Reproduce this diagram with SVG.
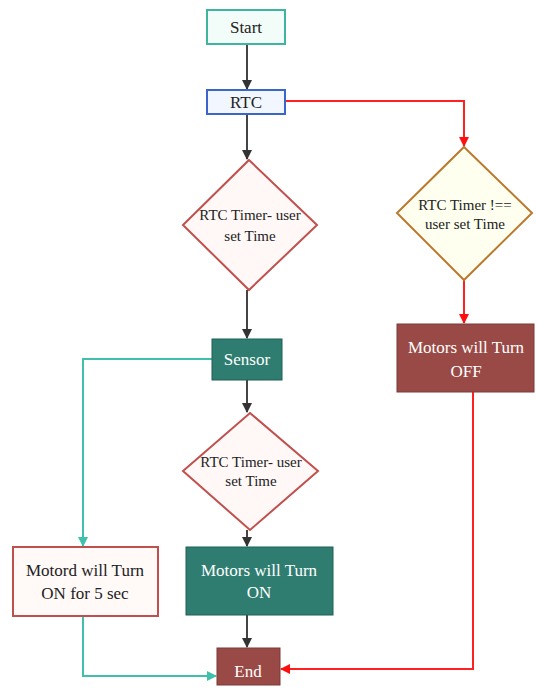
<svg xmlns="http://www.w3.org/2000/svg" width="537" height="689" viewBox="0 0 537 689">
<style>
text{text-anchor:middle;dominant-baseline:central}
.t17{font-size:17px;fill:#222}
.t15{font-size:15px;fill:#222}
.w{font-size:17px;fill:#ffffff}
.blk{stroke:#444;stroke-width:2;fill:none}
.red{stroke:#ff2020;stroke-width:2;fill:none}
.teal{stroke:#40c0aa;stroke-width:2;fill:none}
</style>
<defs>
<marker id="ab" markerWidth="10" markerHeight="10" refX="9" refY="5" orient="auto" markerUnits="userSpaceOnUse"><path d="M0,0 L10,5 L0,10 Z" fill="#333"/></marker>
<marker id="ar" markerWidth="10" markerHeight="10" refX="9" refY="5" orient="auto" markerUnits="userSpaceOnUse"><path d="M0,0 L10,5 L0,10 Z" fill="#ff1010"/></marker>
<marker id="at" markerWidth="10" markerHeight="10" refX="9" refY="5" orient="auto" markerUnits="userSpaceOnUse"><path d="M0,0 L10,5 L0,10 Z" fill="#40c0aa"/></marker>
</defs>
<rect width="537" height="689" fill="#ffffff"/>
<g id="connectors">
<path class="blk" d="M247,44 V89" marker-end="url(#ab)"/>
<path class="blk" d="M247,114 V159" marker-end="url(#ab)"/>
<path class="blk" d="M247,290 V338" marker-end="url(#ab)"/>
<path class="blk" d="M247,380 V412" marker-end="url(#ab)"/>
<path class="blk" d="M247,530 V546" marker-end="url(#ab)"/>
<path class="blk" d="M247,615 V647" marker-end="url(#ab)"/>
<path class="red" d="M285,101 H464 V146" marker-end="url(#ar)"/>
<path class="red" d="M464,280 V323" marker-end="url(#ar)"/>
<path class="red" d="M473,392 V669 H281" marker-end="url(#ar)"/>
<path class="teal" d="M212,359 H83 V546" marker-end="url(#at)"/>
<path class="teal" d="M83,616 V676 H216" marker-end="url(#at)"/>
</g>
<g font-family="Liberation Serif, Times New Roman, DejaVu Serif, serif">
<g id="start">
<rect x="207" y="10" width="78" height="34" fill="#f2fcf9" stroke="#3fb5a0" stroke-width="2"/>
<text class="t17" x="246" y="27">Start</text>
</g>
<g id="rtc">
<rect x="207" y="90" width="78" height="24" fill="#f2f7ff" stroke="#3a66cc" stroke-width="2"/>
<text class="t17" x="246" y="102">RTC</text>
</g>
<g id="decision1">
<polygon points="249,160 317,225 249,290 183,225" fill="#fff8f7" stroke="#c0504d" stroke-width="2"/>
<text class="t15" x="250" y="215">RTC Timer- user</text>
<text class="t15" x="250" y="236">set Time</text>
</g>
<g id="decision-ne">
<polygon points="464,147 532,213 464,280 397,213" fill="#fffff0" stroke="#b97a2e" stroke-width="2"/>
<text class="t15" x="465" y="205">RTC Timer !==</text>
<text class="t15" x="465" y="224">user set Time</text>
</g>
<g id="sensor">
<rect x="212" y="339" width="70" height="41" fill="#2e7d70" stroke="#1f6055" stroke-width="1"/>
<text class="w" x="247" y="359">Sensor</text>
</g>
<g id="motors-off">
<rect x="397" y="324" width="137" height="68" fill="#9a4a46" stroke="#7a3a36" stroke-width="1"/>
<text class="w" x="466" y="347">Motors will Turn</text>
<text class="w" x="466" y="371">OFF</text>
</g>
<g id="decision2">
<polygon points="250,413 318,471 250,530 183,471" fill="#fff8f7" stroke="#c0504d" stroke-width="2"/>
<text class="t15" x="251" y="462">RTC Timer- user</text>
<text class="t15" x="251" y="481">set Time</text>
</g>
<g id="motors-on">
<rect x="186" y="547" width="147" height="68" fill="#2e7d70" stroke="#1f6055" stroke-width="1"/>
<text class="w" x="259" y="570">Motors will Turn</text>
<text class="w" x="259" y="592">ON</text>
</g>
<g id="motord-5sec">
<rect x="13" y="547" width="145" height="69" fill="#fff9f8" stroke="#c0504d" stroke-width="2"/>
<text class="t17" x="85" y="570">Motord will Turn</text>
<text class="t17" x="85" y="593">ON for 5 sec</text>
</g>
<g id="end">
<rect x="217" y="648" width="63" height="37" fill="#9a4a46" stroke="#7a3a36" stroke-width="1"/>
<text class="w" x="248" y="671">End</text>
</g>
</g>
</svg>
